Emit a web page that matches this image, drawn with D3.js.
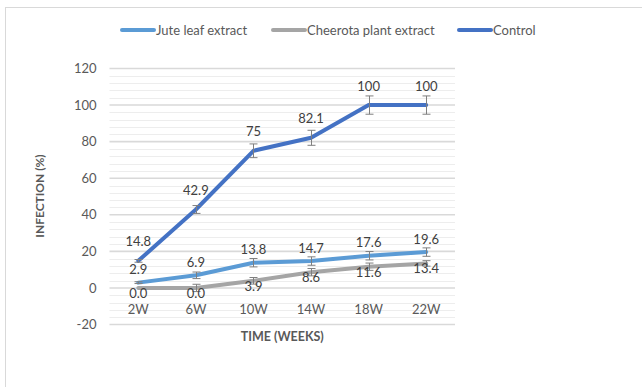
<!DOCTYPE html>
<html><head><meta charset="utf-8">
<script src="https://cdn.jsdelivr.net/npm/d3@7/dist/d3.min.js"></script>
<style>
html,body{margin:0;padding:0;background:#fff;}
svg text{font-family:Lato,"Open Sans",sans-serif;}
</style></head>
<body><svg id="c" width="642" height="387"></svg>
<script>
const categories = ["2W","6W","10W","14W","18W","22W"];
const jute = [2.9, 6.9, 13.8, 14.7, 17.6, 19.6];
const cheerota = [0.0, 0.0, 3.9, 8.6, 11.6, 13.4];
const control = [14.8, 42.9, 75, 82.1, 100, 100];
const juteErr = [0.5, 1.8, 2.3, 2.3, 2.3, 2.3];
const cheerotaErr = [0, 2, 1.8, 2, 2, 1.5];
const controlErr = control.map(v => v * 0.05);
const juteLabels = ["2.9","6.9","13.8","14.7","17.6","19.6"];
const cheerotaLabels = ["0.0","0.0","3.9","8.6","11.6","13.4"];
const controlLabels = ["14.8","42.9","75","82.1","100","100"];
const yTicks = [-20,0,20,40,60,80,100,120];
const seriesNames = ["Jute leaf extract","Cheerota plant extract","Control"];

const svg = d3.select("#c");
const L = 109.5, R = 455, T = 68.5, B = 324.5;
const x = d3.scaleBand().domain(categories).range([L, R]);
const cx = d => x(d) + x.bandwidth()/2;
const y = d3.scaleLinear().domain([-20,120]).range([B, T]);

// chart border
svg.append("rect").attr("x",5.5).attr("y",7.5).attr("width",700).attr("height",400)
  .attr("fill","#fff").attr("stroke","#d9d9d9").attr("stroke-width",1);

// minor gridlines
const minor = d3.range(-20, 121, 4).filter(v => v % 20 !== 0);
svg.append("g").selectAll("line").data(minor).join("line")
  .attr("x1",L).attr("x2",R).attr("y1",d=>Math.round(y(d))+0.5).attr("y2",d=>Math.round(y(d))+0.5)
  .attr("stroke","#ededed").attr("stroke-width",1);
// major gridlines
svg.append("g").selectAll("line").data(yTicks).join("line")
  .attr("x1",L).attr("x2",R).attr("y1",d=>y(d)).attr("y2",d=>y(d))
  .attr("stroke","#d9d9d9").attr("stroke-width",1.6);

// y axis labels
const yAxis = d3.axisLeft(y).tickValues(yTicks).tickSize(0).tickPadding(0).tickFormat(d => String(d));
const ga = svg.append("g").attr("transform",`translate(${L-13},0)`).call(yAxis);
ga.select(".domain").remove();
ga.selectAll("text").attr("font-size",13).attr("fill","#595959").attr("font-family","Lato,sans-serif");

// x category labels
const xAxis = d3.axisBottom(x).tickSize(0).tickPadding(0);
const gx = svg.append("g").attr("transform",`translate(0,${y(0)+22})`).call(xAxis);
gx.select(".domain").remove();
gx.selectAll("text").attr("font-size",13).attr("fill","#595959").attr("font-family","Lato,sans-serif").attr("dy","0.35em");

// axis titles
svg.append("text").attr("x",(L+R)/2).attr("y",337).attr("dy","0.35em").attr("text-anchor","middle")
  .attr("font-size",12.5).attr("font-weight","bold").attr("fill","#595959").text("TIME (WEEKS)");
svg.append("text").attr("transform","translate(40,196) rotate(-90)").attr("dy","0.35em").attr("text-anchor","middle")
  .attr("font-size",12).attr("font-weight","bold").attr("fill","#595959").text("INFECTION (%)");

const series = [
  {name:seriesNames[1], vals:cheerota, err:cheerotaErr, labels:cheerotaLabels, color:"#a5a5a5", off:5.5},
  {name:seriesNames[0], vals:jute, err:juteErr, labels:juteLabels, color:"#5b9bd5", off:-13},
  {name:seriesNames[2], vals:control, err:controlErr, labels:controlLabels, color:"#4472c4", off:-19}
];
const line = d3.line().x((d,i)=>cx(categories[i])).y(d=>y(d));
series.forEach(s => {
  svg.append("path").datum(s.vals).attr("d",line).attr("fill","none")
    .attr("stroke",s.color).attr("stroke-width",4).attr("stroke-linecap","round").attr("stroke-linejoin","round");
});
// error bars
series.forEach(s => {
  const g = svg.append("g").attr("stroke","#7f7f7f").attr("stroke-width",1);
  s.vals.forEach((v,i) => {
    const e = s.err[i]; if (!e) return;
    const xx = Math.round(cx(categories[i]))+0.5;
    g.append("line").attr("x1",xx).attr("x2",xx).attr("y1",y(v+e)).attr("y2",y(v-e));
    [v+e, v-e].forEach(w => g.append("line").attr("x1",xx-4).attr("x2",xx+4).attr("y1",y(w)).attr("y2",y(w)));
  });
});
// data labels
series.forEach(s => {
  svg.append("g").selectAll("text").data(s.vals).join("text")
    .attr("x",(d,i)=>cx(categories[i])).attr("y",d=>y(d)+s.off).attr("dy","0.35em")
    .attr("text-anchor","middle").attr("font-size",13).attr("fill","#404040")
    .text((d,i)=>s.labels[i]);
});

// legend
const legendItems = [
  {name:seriesNames[0], color:"#5b9bd5", x:120},
  {name:seriesNames[1], color:"#a5a5a5", x:271},
  {name:seriesNames[2], color:"#4472c4", x:457}
];
const lg = svg.append("g");
legendItems.forEach(it => {
  lg.append("line").attr("x1",it.x+2).attr("x2",it.x+34).attr("y1",30).attr("y2",30)
    .attr("stroke",it.color).attr("stroke-width",4).attr("stroke-linecap","round");
  lg.append("text").attr("x",it.x+36).attr("y",30).attr("dy","0.35em")
    .attr("font-size",13).attr("fill","#595959").text(it.name);
});
</script></body></html>
